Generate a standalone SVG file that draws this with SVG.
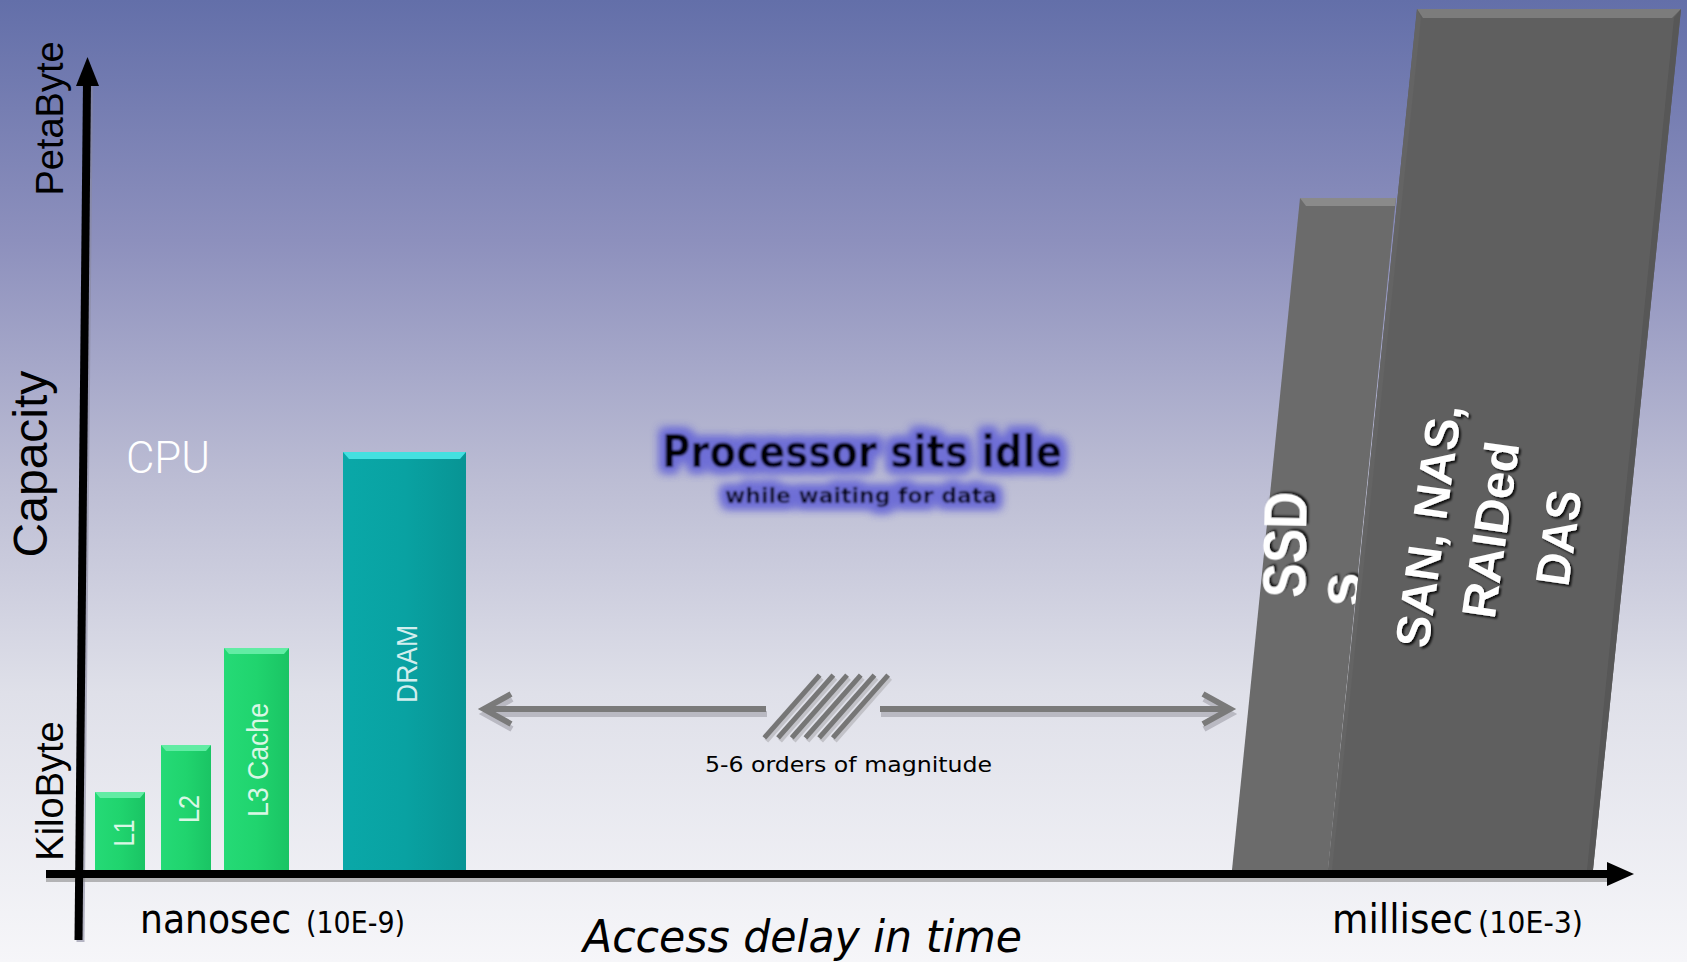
<svg xmlns="http://www.w3.org/2000/svg" width="1687" height="962" viewBox="0 0 1687 962">
<style>
.ax{font-family:"Liberation Sans",Arial,sans-serif;fill:#000}
.tah{font-family:"DejaVu Sans Condensed","DejaVu Sans",sans-serif;fill:#000}
.bar{font-family:"Liberation Sans",Arial,sans-serif;font-size:30px;text-anchor:middle}
.st{font-family:"Liberation Sans",Arial,sans-serif;font-weight:bold;fill:#fff}
.arr{fill:none;stroke:#7a7a7a;stroke-width:6}
.arrs{fill:none;stroke:#b9b9c2;stroke-width:6}
.hat{stroke:#767676;stroke-width:5;stroke-linecap:square}
.hats{stroke:#c2c2c8;stroke-width:5;stroke-linecap:square}
</style>
<defs>
<linearGradient id="bg" x1="0" y1="0" x2="0" y2="1">
<stop offset="0" stop-color="#636fa9"/>
<stop offset="0.25" stop-color="#8d90bd"/>
<stop offset="0.5" stop-color="#bcbdd4"/>
<stop offset="0.72" stop-color="#dfe0e9"/>
<stop offset="1" stop-color="#f6f6f9"/>
</linearGradient>
<linearGradient id="gGreen" x1="0" y1="0" x2="1" y2="0">
<stop offset="0" stop-color="#25da76"/>
<stop offset="0.5" stop-color="#20d46e"/>
<stop offset="1" stop-color="#1ac464"/>
</linearGradient>
<linearGradient id="gTeal" x1="0" y1="0" x2="1" y2="0">
<stop offset="0" stop-color="#0aa8a8"/>
<stop offset="0.5" stop-color="#09a2a2"/>
<stop offset="1" stop-color="#089494"/>
</linearGradient>
<filter id="glow" x="-10%" y="-50%" width="120%" height="200%">
<feMorphology in="SourceAlpha" operator="dilate" radius="5" result="d"/>
<feGaussianBlur in="d" stdDeviation="5" result="b"/>
<feFlood flood-color="#6f6fd6"/>
<feComposite in2="b" operator="in" result="g"/>
<feGaussianBlur in="SourceGraphic" stdDeviation="0.9" result="s"/>
<feMerge><feMergeNode in="g"/><feMergeNode in="g"/><feMergeNode in="s"/></feMerge>
</filter>
<filter id="tsh" x="-20%" y="-20%" width="140%" height="140%">
<feDropShadow dx="2" dy="2" stdDeviation="1.3" flood-color="#000" flood-opacity="0.85"/>
</filter>
</defs>
<rect width="1687" height="962" fill="url(#bg)"/>

<g id="node-L1">
<rect x="95" y="792" width="50" height="78" fill="url(#gGreen)"/>
<polygon points="95,792 145,792 140,798 100,798" fill="#62eca4"/>
<text class="bar" fill="#d9f7e5" transform="translate(134,833) rotate(-90)" textLength="27" lengthAdjust="spacingAndGlyphs">L1</text>
</g>
<g id="node-L2">
<rect x="161" y="745" width="50" height="125" fill="url(#gGreen)"/>
<polygon points="161,745 211,745 206,751 166,751" fill="#62eca4"/>
<text class="bar" fill="#d9f7e5" transform="translate(199,809) rotate(-90)" textLength="28" lengthAdjust="spacingAndGlyphs">L2</text>
</g>
<g id="node-L3">
<rect x="224" y="648" width="65" height="222" fill="url(#gGreen)"/>
<polygon points="224,648 289,648 284,654 229,654" fill="#62eca4"/>
<text class="bar" fill="#d9f7e5" transform="translate(268,760) rotate(-90)" textLength="114" lengthAdjust="spacingAndGlyphs">L3 Cache</text>
</g>
<g id="node-DRAM">
<rect x="343" y="452" width="123" height="418" fill="url(#gTeal)"/>
<polygon points="343,452 466,452 460,459 349,459" fill="#44e0e0"/>
<text class="bar" fill="#d2eeee" transform="translate(417,664) rotate(-90)" textLength="78" lengthAdjust="spacingAndGlyphs">DRAM</text>
</g>

<g id="node-SSDs">
<polygon points="1300,198 1396,198 1328,870 1232,870" fill="#6b6b6b"/>
<polygon points="1300,198 1396,198 1395,206 1306,206" fill="#8a8a8a"/>
<text class="st" font-size="62" filter="url(#tsh)" transform="translate(1305,598) rotate(-89)" textLength="106" lengthAdjust="spacingAndGlyphs">SSD</text>
<text class="st" font-size="62" filter="url(#tsh)" transform="translate(1360,607) rotate(-89)">s</text>
</g>
<g id="node-SAN">
<polygon points="1417,9 1681,9 1593,870 1328,870" fill="#5f5f5f"/>
<polygon points="1417,9 1681,9 1672,18 1423,18" fill="#7c7c7c"/>
<polygon points="1681,9 1593,870 1587,870 1674,18" fill="#575757"/>
<polygon points="1417,9 1421,18 1332,870 1328,870" fill="#646464"/>
<g class="st" font-size="48" text-anchor="middle" filter="url(#tsh)">
<text transform="translate(1445,528) rotate(-82)" textLength="245" lengthAdjust="spacingAndGlyphs">SAN, NAS,</text>
<text transform="translate(1507,532) rotate(-82)" textLength="178" lengthAdjust="spacingAndGlyphs">RAIDed</text>
<text transform="translate(1575,540) rotate(-82)" textLength="96" lengthAdjust="spacingAndGlyphs">DAS</text>
</g>
</g>

<g id="connectors">
<g id="axes">
<line x1="80.5" y1="942" x2="89" y2="86" stroke="#8a8aa0" stroke-width="8" opacity="0.6"/>
<line x1="46" y1="878" x2="1612" y2="878" stroke="#8c8c8c" stroke-width="8" opacity="0.6"/>
<line x1="78.5" y1="940" x2="87" y2="82" stroke="#000" stroke-width="8"/>
<polygon points="87.5,57 99,86 76,86" fill="#000"/>
<line x1="46" y1="874" x2="1612" y2="874" stroke="#000" stroke-width="8"/>
<polygon points="1634,874 1607,862 1607,886" fill="#000"/>
</g>
<g id="gap-arrow">
<g transform="translate(1,5)">
<line class="arrs" x1="486" y1="709" x2="766" y2="709"/>
<line class="arrs" x1="880" y1="709" x2="1226" y2="709"/>
<polyline class="arrs" points="511,694 484,709 511,724"/>
<polyline class="arrs" points="1203,694 1230,709 1203,724"/>
</g>
<line class="arr" x1="486" y1="709" x2="766" y2="709"/>
<line class="arr" x1="880" y1="709" x2="1226" y2="709"/>
<polyline class="arr" points="511,694 484,709 511,724"/>
<polyline class="arr" points="1203,694 1230,709 1203,724"/>
<g transform="translate(2,3)">
<line class="hats" x1="766" y1="736" x2="818" y2="677"/>
<line class="hats" x1="779.7" y1="736" x2="831.7" y2="677"/>
<line class="hats" x1="793.4" y1="736" x2="845.4" y2="677"/>
<line class="hats" x1="807.1" y1="736" x2="859.1" y2="677"/>
<line class="hats" x1="820.8" y1="736" x2="872.8" y2="677"/>
<line class="hats" x1="834.5" y1="736" x2="886.5" y2="677"/>
</g>
<line class="hat" x1="766" y1="736" x2="818" y2="677"/>
<line class="hat" x1="779.7" y1="736" x2="831.7" y2="677"/>
<line class="hat" x1="793.4" y1="736" x2="845.4" y2="677"/>
<line class="hat" x1="807.1" y1="736" x2="859.1" y2="677"/>
<line class="hat" x1="820.8" y1="736" x2="872.8" y2="677"/>
<line class="hat" x1="834.5" y1="736" x2="886.5" y2="677"/>
</g>
</g>

<g id="labels">
<text class="ax" font-size="38" text-anchor="middle" transform="translate(63,118.5) rotate(-90)">PetaByte</text>
<text class="ax" font-size="48" text-anchor="middle" transform="translate(47,464) rotate(-90)">Capacity</text>
<text class="ax" font-size="38" text-anchor="middle" transform="translate(63,791) rotate(-90)">KiloByte</text>
<text font-family="Roboto,'Liberation Sans',sans-serif" font-weight="300" font-size="44" fill="#fff" x="126" y="473" textLength="84" lengthAdjust="spacingAndGlyphs">CPU</text>
<text class="tah" font-size="40" x="140" y="933" textLength="151" lengthAdjust="spacingAndGlyphs">nanosec</text>
<text class="tah" font-size="30" x="306" y="933" textLength="99" lengthAdjust="spacingAndGlyphs">(10E-9)</text>
<text class="tah" font-size="40" x="1332" y="933" textLength="141" lengthAdjust="spacingAndGlyphs">millisec</text>
<text class="tah" font-size="30" x="1478" y="933" textLength="105" lengthAdjust="spacingAndGlyphs">(10E-3)</text>
<text class="tah" font-size="44" font-style="italic" x="583" y="952" textLength="439" lengthAdjust="spacingAndGlyphs">Access delay in time</text>
<text class="tah" font-size="22" x="705" y="772" fill="#111" textLength="287" lengthAdjust="spacingAndGlyphs">5-6 orders of magnitude</text>
</g>

<g id="node-idle" filter="url(#glow)">
<text class="tah" font-size="44" font-weight="bold" fill="#0c0c2c" x="662" y="467" textLength="400" lengthAdjust="spacingAndGlyphs">Processor sits idle</text>
<text class="tah" font-size="22" font-weight="bold" fill="#1c1c3c" x="725" y="503" textLength="272" lengthAdjust="spacingAndGlyphs">while waiting for data</text>
</g>
</svg>
